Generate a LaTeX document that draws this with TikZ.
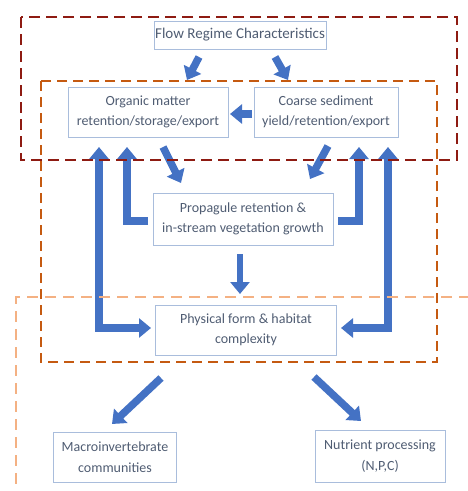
\documentclass[tikz,border=0pt]{standalone}
\usepackage{fontspec}
\setmainfont{Carlito}
\usetikzlibrary{arrows.meta}
\definecolor{darkred}{HTML}{8E1B12}
\definecolor{midorange}{HTML}{C55A11}
\definecolor{lightorange}{HTML}{F4B183}
\definecolor{arrowblue}{HTML}{4472C4}
\definecolor{boxline}{HTML}{A9BDDC}
\definecolor{boxtext}{HTML}{4F5C72}
\begin{document}
\begin{tikzpicture}[x=1pt,y=-1pt,
  box/.style={draw=boxline, line width=0.9pt, text=boxtext, align=center, inner sep=0pt,
    font=\fontsize{14}{20.5}\selectfont},
  blk/.style={draw=arrowblue, line width=7.5pt, line join=miter,
    -{Triangle[width=19pt,length=12pt]}},
  dblk/.style={draw=arrowblue, line width=8pt, line join=miter,
    {Triangle[width=19pt,length=12pt]}-{Triangle[width=19pt,length=12pt]}},
  dashred/.style={draw=darkred, line width=2.6pt, dash pattern=on 11pt off 6pt},
  dashorange/.style={draw=midorange, line width=2.4pt, dash pattern=on 10pt off 6pt},
  dashlight/.style={draw=lightorange, line width=2pt, dash pattern=on 11pt off 7pt}]
\useasboundingbox (0,0) rectangle (467,491);

% nodes
\node[box, minimum width=172pt, minimum height=28pt, font=\fontsize{15}{18}\selectfont] (flow) at (240,35) {Flow Regime Characteristics};
\node[box, minimum width=160pt, minimum height=50pt] (om) at (148,112) {Organic matter\\retention/storage/export};
\node[box, minimum width=144pt, minimum height=50pt] (cs) at (326,112) {Coarse sediment\\yield/retention/export};
\node[box, minimum width=180pt, minimum height=52pt] (prop) at (243,219) {Propagule retention \&\\in-stream vegetation growth};
\node[box, minimum width=181pt, minimum height=50pt] (phys) at (246,330) {Physical form \& habitat\\complexity};
\node[box, minimum width=123pt, minimum height=50pt] (macro) at (115,457) {Macroinvertebrate\\communities};
\node[box, minimum width=130pt, minimum height=52pt] (nut) at (380,456) {Nutrient processing\\(N,P,C)};

% connector end points
\coordinate (f1) at (199,57);  \coordinate (f1e) at (187,80);
\coordinate (f2) at (275,57);  \coordinate (f2e) at (288,80);
\coordinate (c1) at (252,114); \coordinate (c1e) at (230,114);
\coordinate (o1) at (163,147); \coordinate (o1e) at (181,183);
\coordinate (c2) at (328,146); \coordinate (c2e) at (310,179);
\coordinate (pl) at (148,221); \coordinate (ple) at (127,147);
\coordinate (pr) at (338,221); \coordinate (pre) at (359,147);
\coordinate (ol) at (99,147);  \coordinate (phl) at (151,328);
\coordinate (cr) at (388,147); \coordinate (phr) at (341,328);
\coordinate (pd) at (240,254); \coordinate (pde) at (240,294);
\coordinate (m1) at (161,378); \coordinate (m1e) at (112,424);
\coordinate (n1) at (314,377); \coordinate (n1e) at (361,421);

% arrows
\draw[blk] (f1) -- (f1e);
\draw[blk] (f2) -- (f2e);
\draw[blk] (c1) -- (c1e);
\draw[blk] (o1) -- (o1e);
\draw[blk] (c2) -- (c2e);
\draw[blk] (pl) -| (ple);
\draw[blk] (pr) -| (pre);
\draw[dblk] (ol) |- (phl);
\draw[dblk] (cr) |- (phr);
\draw[blk, line width=6pt] (pd) -- (pde);
\draw[blk] (m1) -- (m1e);
\draw[blk] (n1) -- (n1e);

% dashed regions
\draw[dashlight] (470,297) -- (16,297) -- (16,495);
\draw[dashorange] (41,81) rectangle (437,362);
\draw[dashred] (21,17) rectangle (457,160);
\end{tikzpicture}
\end{document}
